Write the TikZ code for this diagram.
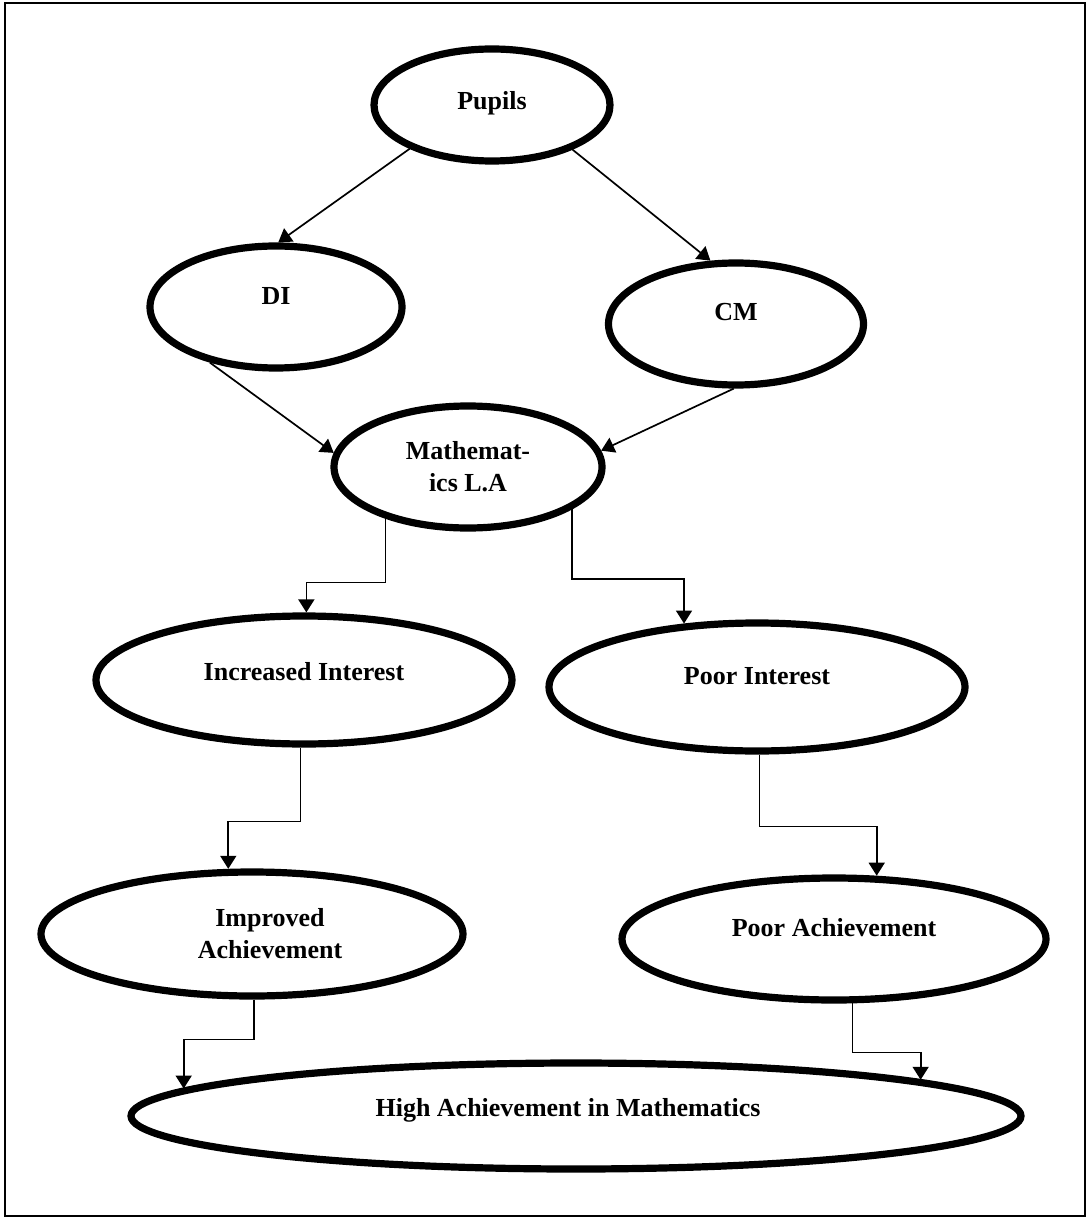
\documentclass[tikz,border=0pt]{standalone}
\usepackage{fontspec}
\setmainfont{Liberation Serif}
\usetikzlibrary{arrows.meta,shapes.geometric}
\newcommand{\liftup}[2]{\raisebox{#1}[\height][\depth]{#2}}

\begin{document}
\begin{tikzpicture}[x=0.5pt,y=-0.5pt,
  blob/.style={draw,ellipse,line width=3.6pt,inner sep=0pt,align=center,
    font=\fontsize{13}{16}\selectfont\bfseries},
  conn/.style={line width=0.85pt,-{Triangle[length=6.5pt,width=8pt]}}]
  \useasboundingbox (0,0) rectangle (1088,1219);
  \draw[line width=1pt] (5,3) rectangle (1085,1216);

  % the ellipses
  \node[blob,minimum width=118pt,minimum height=56pt] (pupils) at (492,105) {\liftup{1pt}{Pupils}};
  \node[blob,minimum width=126pt,minimum height=61pt] (di) at (276,307) {\liftup{5.5pt}{DI}};
  \node[blob,minimum width=127.5pt,minimum height=61pt] (cm) at (736,324) {\liftup{6pt}{CM}};
  \node[blob,minimum width=134pt,minimum height=61pt] (math) at (468,467) {Mathemat-\\ics L.A};
  \node[blob,minimum width=208pt,minimum height=64pt] (inc) at (304,680) {\liftup{4pt}{Increased Interest}};
  \node[blob,minimum width=208pt,minimum height=64pt] (poor) at (757,687) {\liftup{5.5pt}{Poor Interest}};
  \node[blob,minimum width=211pt,minimum height=62pt] (imp) at (252,934) {\hspace*{18pt}Improved\\\hspace*{18pt}Achievement};
  \node[blob,minimum width=212pt,minimum height=61pt] (pach) at (834,939) {\liftup{5.5pt}{Poor Achievement}};
  \node[blob,minimum width=445pt,minimum height=53pt] (high) at (576,1116) {\liftup{3pt}{\hspace*{-8pt}High Achievement in Mathematics}};

  % connectors
  \draw[conn] (pupils.208) -- (di.88);
  \draw[conn] (pupils.331) -- (cm.112);
  \draw[conn] (di.220) -- (math.174);
  \draw[conn] (cm.268) -- (math.7);
  \draw[conn] (math.212) -- ++(0,64) -| (inc.88);
  \draw[conn] (math.338) -- ++(0,70) -| (poor.139);
  \draw[conn] (inc.267) -- ++(0,74) -| (imp.110);
  \draw[conn] (poor.272) -- ++(0,72) -| (pach.56);
  \draw[conn] (imp.272) -- ++(0,40) -| (high.176);
  \draw[conn] (pach.286) -- ++(0,49) -| (high.6);
\end{tikzpicture}
\end{document}
